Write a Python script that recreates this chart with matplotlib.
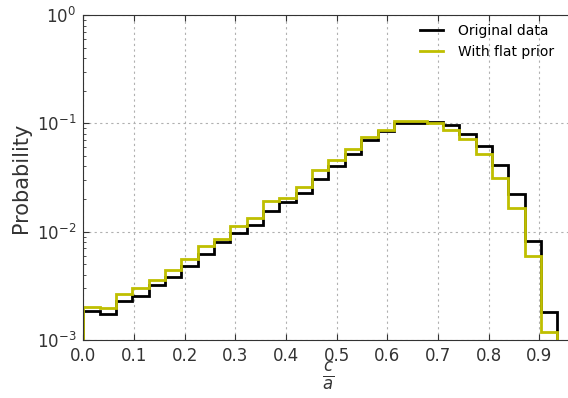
import numpy as np
import matplotlib
matplotlib.use("Agg")
import matplotlib.pyplot as plt
from matplotlib.lines import Line2D

# histogram: 31 bins on [0, 1], only the first 29 are filled
n_bins = 31
n_filled = 29

original_data = [
    0.00186, 0.00172, 0.00231, 0.00257, 0.00323, 0.00385, 0.00487, 0.00625,
    0.00795, 0.00966, 0.0116, 0.0154, 0.0186, 0.0229, 0.0308, 0.0401,
    0.0525, 0.0697, 0.0857, 0.1004, 0.1009, 0.102, 0.0959, 0.0803,
    0.0616, 0.0411, 0.0222, 0.00824, 0.00180,
]
flat_prior = [
    0.00202, 0.00197, 0.00267, 0.00301, 0.00359, 0.00444, 0.00562, 0.00730,
    0.00855, 0.0113, 0.0135, 0.0190, 0.0205, 0.0260, 0.0368, 0.0455,
    0.0580, 0.0748, 0.0874, 0.1048, 0.1048, 0.1004, 0.0874, 0.0715,
    0.0525, 0.0313, 0.0165, 0.00595, 0.00119,
]
labels = ["Original data", "With flat prior"]
colors = ["black", "#bfbf00"]
x_ticks = [0.0, 0.1, 0.2, 0.3, 0.4, 0.5, 0.6, 0.7, 0.8, 0.9]


def main() -> None:
    edges = np.linspace(0, 1, n_bins + 1)[: n_filled + 1]
    centers = 0.5 * (edges[:-1] + edges[1:])

    fig = plt.figure(figsize=(5.68, 3.98), dpi=100)
    # axes runs past the right edge of the figure, like the cropped original
    ax = fig.add_axes([0.1467, 0.1457, 0.892, 0.8166])

    for vals, col in zip([original_data, flat_prior], colors):
        ax.hist(centers, bins=edges, weights=vals, histtype="step",
                color=col, linewidth=2)

    ax.set_yscale("log")
    ax.set_xlim(0, 1)
    ax.set_ylim(1e-3, 1)
    ax.set_xticks(x_ticks)
    ax.grid(True, which="major", color="#b0b0b0", linestyle=(0, (2, 3)),
            linewidth=0.8)
    ax.tick_params(which="both", direction="in", top=True, right=True,
                   labelsize=12, colors="#333333")
    ax.tick_params(which="major", length=4, pad=5)
    ax.tick_params(which="minor", length=2)
    for sp in ax.spines.values():
        sp.set_color("#333333")

    ax.set_ylabel("Probability", fontsize=15, color="#333333")
    ax.set_xlabel(r"$\frac{c}{a}$", fontsize=17, color="#333333")
    ax.xaxis.set_label_coords((328 - 83.3) / 506.7, -0.062)

    handles = [Line2D([], [], color=c, linewidth=2) for c in colors]
    ax.legend(handles, labels, loc="upper left", bbox_to_anchor=(0.739, 0.94),
              bbox_transform=fig.transFigure, frameon=False, fontsize=10,
              handlelength=1.65, handletextpad=1.1, labelspacing=0.5,
              borderpad=0, borderaxespad=0)

    fig.savefig("out.png", dpi=100)
    plt.close(fig)


if __name__ == "__main__":
    main()
